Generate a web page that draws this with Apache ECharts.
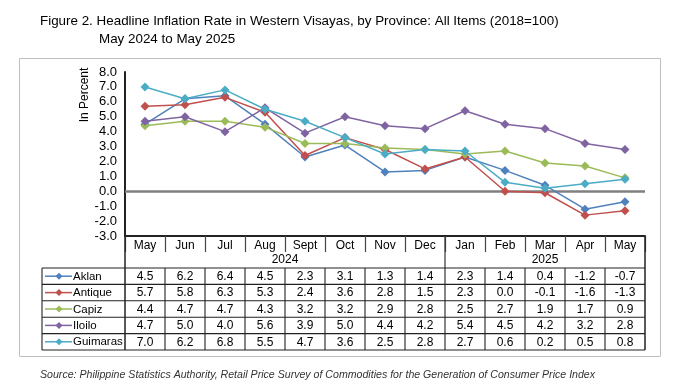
<!DOCTYPE html>
<html><head><meta charset="utf-8">
<script src="https://cdn.jsdelivr.net/npm/echarts@6/dist/echarts.min.js"></script>
<style>html,body{margin:0;padding:0;background:#fff}#c{width:689px;height:392px}</style>
</head><body><div id="c"></div>
<script>
var months = ['May','Jun','Jul','Aug','Sept','Oct','Nov','Dec','Jan','Feb','Mar','Apr','May'];
var years = ['2024','2025'];
var yearSpans = [8, 5];
var yTicks = [-3, 8, 1];
var names = ['Aklan','Antique','Capiz','Iloilo','Guimaras'];
var aklan    = [4.5, 6.2, 6.4, 4.5, 2.3, 3.1, 1.3, 1.4, 2.3, 1.4, 0.4, -1.2, -0.7];
var antique  = [5.7, 5.8, 6.3, 5.3, 2.4, 3.6, 2.8, 1.5, 2.3, 0.0, -0.1, -1.6, -1.3];
var capiz    = [4.4, 4.7, 4.7, 4.3, 3.2, 3.2, 2.9, 2.8, 2.5, 2.7, 1.9, 1.7, 0.9];
var iloilo   = [4.7, 5.0, 4.0, 5.6, 3.9, 5.0, 4.4, 4.2, 5.4, 4.5, 4.2, 3.2, 2.8];
var guimaras = [7.0, 6.2, 6.8, 5.5, 4.7, 3.6, 2.5, 2.8, 2.7, 0.6, 0.2, 0.5, 0.8];
var seriesData = [aklan, antique, capiz, iloilo, guimaras];
var colors = ['#4F81BD','#C0504D','#9BBB59','#8064A2','#4BACC6'];
var FONT = '"Liberation Sans", Arial, sans-serif';

var chart = echarts.init(document.getElementById('c'), null, {renderer:'canvas'});
var series = names.map(function(n, i){
  var s = {
    name: n, type: 'line', data: seriesData[i],
    symbol: 'diamond', symbolSize: 9,
    lineStyle: {width: 1.5, color: colors[i]},
    itemStyle: {color: colors[i]},
    animation: false, z: 3 + i
  };
  if (i === 0) {
    s.markLine = {silent: true, symbol: 'none', label: {show: false},
      lineStyle: {color: '#808080', width: 2.5, type: 'solid'},
      data: [{yAxis: 0}], animation: false, z: 1};
  }
  return s;
});
chart.setOption({
  animation: false,
  textStyle: {fontFamily: FONT},
  grid: {left: 125, right: 44, top: 72, bottom: 156},
  xAxis: {
    type: 'category', data: months, boundaryGap: true,
    axisLine: {onZero: false, lineStyle: {color: '#222', width: 2}},
    axisTick: {show: true, length: 16, lineStyle: {color: '#444', width: 1.2}},
    axisLabel: {color: '#000', fontSize: 12, fontFamily: FONT, margin: 4, interval: 0}
  },
  yAxis: {
    type: 'value', min: yTicks[0], max: yTicks[1], interval: yTicks[2],
    axisLine: {show: true, lineStyle: {color: '#222', width: 2}},
    axisTick: {show: false},
    splitLine: {show: false},
    axisLabel: {color: '#000', fontSize: 13, fontFamily: FONT, margin: 8,
      formatter: function(v){ return v.toFixed(1); }}
  },
  series: series
});

function build(){
  var g = [];
  var x0 = chart.convertToPixel({xAxisIndex:0}, 0);
  var x1 = chart.convertToPixel({xAxisIndex:0}, 1);
  var bw = x1 - x0;
  var left = x0 - bw/2;
  var right = left + bw * months.length;
  var axisY = chart.convertToPixel({yAxisIndex:0}, yTicks[0]);
  var rowTop = axisY + 32;
  var rh = 16.4;
  var tableBottom = rowTop + rh * names.length;
  var legLeft = 42;
  function line(xa, ya, xb, yb, c, w){
    g.push({type:'line', shape:{x1:xa,y1:ya,x2:xb,y2:yb}, style:{stroke:c||'#000', lineWidth:w||1}, silent:true, z:10});
  }
  function text(t, x, y, opts){
    var st = Object.assign({text:t, x:x, y:y, fill:'#000', font:'12px ' + FONT, textAlign:'center', textVerticalAlign:'middle'}, opts||{});
    g.push({type:'text', style:st, silent:true, z:10});
    return g[g.length-1];
  }
  // outer border
  g.push({type:'rect', shape:{x:19.5, y:58.5, width:641, height:298}, style:{fill:'none', stroke:'#bfbfbf', lineWidth:1}, silent:true, z:0});
  // titles
  text('Figure 2. Headline Inflation Rate in Western Visayas, by Province: All Items (2018=100)', 40, 21, {textAlign:'left', font:'13.4px ' + FONT});
  text('May 2024 to May 2025', 99, 39, {textAlign:'left', font:'13.4px ' + FONT});
  var yl = text('In Percent', 0, 0, {font:'12px ' + FONT});
  yl.x = 85; yl.y = 95; yl.rotation = Math.PI/2;
  text('Source: Philippine Statistics Authority, Retail Price Survey of Commodities for the Generation of Consumer Price Index', 40, 375, {textAlign:'left', font:'italic 10.6px ' + FONT, fill:'#333'});
  // year row
  var start = 0;
  years.forEach(function(y, k){
    var a = left + start*bw, b = left + (start + yearSpans[k])*bw;
    text(y, (a+b)/2, axisY + 24);
    if (k > 0) line(a, axisY, a, rowTop, '#333', 1.2);
    start += yearSpans[k];
  });
  line(left, axisY, left, tableBottom, '#222', 1.5);
  line(right, axisY, right, tableBottom, '#222', 1.5);
  // table rows
  for (var r = 0; r <= names.length; r++) {
    line(legLeft, rowTop + r*rh, right, rowTop + r*rh, '#222', 1.1);
  }
  line(legLeft, rowTop, legLeft, tableBottom, '#222', 1.1);
  for (var c = 1; c < months.length; c++) {
    line(left + c*bw, rowTop, left + c*bw, tableBottom, '#222', 1.1);
  }
  names.forEach(function(n, i){
    var cy = rowTop + rh*(i+0.5);
    line(45, cy, 72, cy, colors[i], 1.5);
    g.push({type:'polygon', shape:{points:[[59, cy-3.5],[62.5, cy],[59, cy+3.5],[55.5, cy]]}, style:{fill:colors[i]}, silent:true, z:11});
    text(n, 73, cy + 0.5, {textAlign:'left', font:'11.5px ' + FONT});
    seriesData[i].forEach(function(v, j){
      text(v.toFixed(1), chart.convertToPixel({xAxisIndex:0}, j), cy + 0.5);
    });
  });
  chart.setOption({graphic: g});
}
build();
</script></body></html>
